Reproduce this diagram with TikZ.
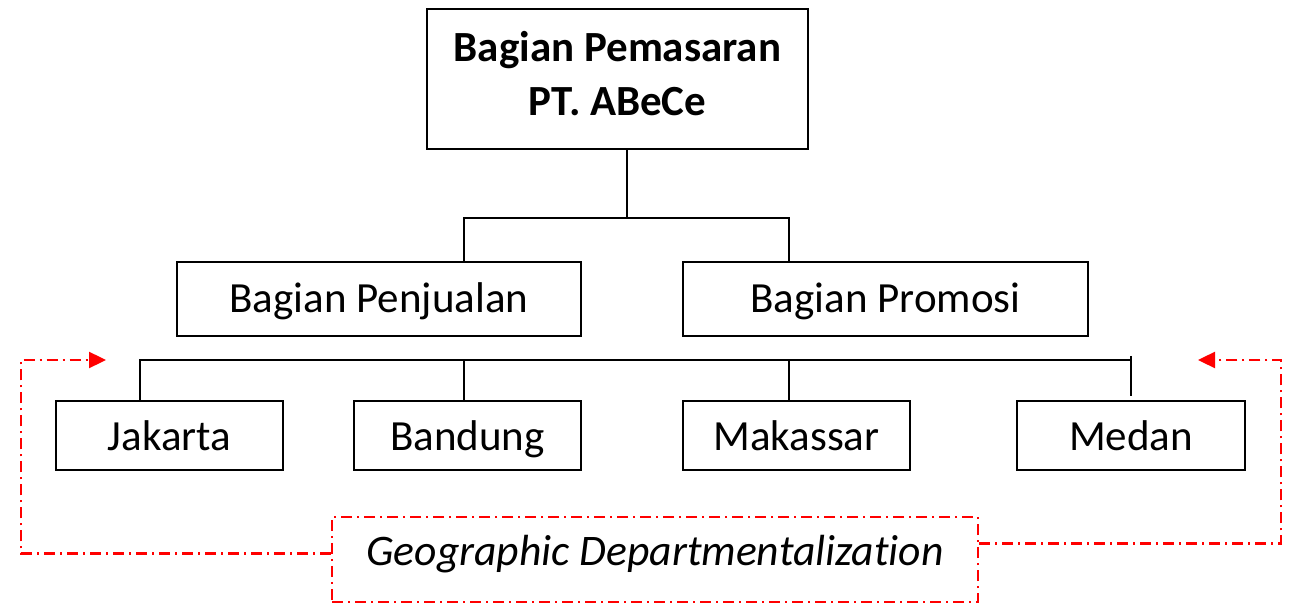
\documentclass[tikz,border=0pt]{standalone}
\usepackage{fontspec}
\setmainfont{Carlito}[Ligatures=NoCommon]
\usetikzlibrary{arrows.meta}
\begin{document}
\begin{tikzpicture}[x=0.5pt,y=-0.5pt,
  box/.style={draw=black,line width=1pt,fill=white,inner sep=0pt,
    font=\fontsize{21.5}{27}\selectfont},
  midbox/.style={box,minimum height=37pt,text height=13.6pt,text depth=0pt},
  citybox/.style={box,minimum width=113.5pt,minimum height=34.5pt,text height=15.5pt,text depth=0pt},
  conn/.style={draw=black,line width=1pt},
  reddash/.style={draw=red,line width=1.2pt,dash pattern=on 5.5pt off 2.5pt on 1pt off 2.5pt},
  redarrow/.style={reddash,-{Triangle[length=8.5pt,width=8pt,fill=red]}}
]
\useasboundingbox (0,0) rectangle (1292,604);
\fill[white] (0,0) rectangle (1292,604);

\node[box,minimum width=190.5pt,minimum height=70pt,align=center,text depth=6pt,
  font=\fontsize{21.5}{27}\selectfont\bfseries] (top) at (617.5,79) {Bagian Pemasaran\\PT. ABeCe};

\node[midbox,minimum width=202pt] (pj) at (379,299) {Bagian Penjualan};
\node[midbox,minimum width=202.5pt] (pr) at (885.5,299) {Bagian Promosi};

\node[citybox] (jk) at (169.5,435.5) {Jakarta};
\node[citybox] (bd) at (467.5,435.5) {Bandung};
\node[citybox] (mk) at (796.5,435.5) {Makassar};
\node[citybox,minimum width=114pt] (md) at (1131,435.5) {Medan};

\node[box,draw=red,line width=1.2pt,dash pattern=on 5.5pt off 2.5pt on 1pt off 2.5pt,
  minimum width=323pt,minimum height=42.5pt,text height=13.6pt,text depth=7.1pt,
  font=\fontsize{21.8}{27}\selectfont\itshape] (geo) at (655,559.5) {Geographic Departmentalization};

% connectors, upper tier
\coordinate (j1) at (627,218);
\coordinate (a1) at (464,218);
\coordinate (a2) at (789,218);
\draw[conn] (top.south -| j1) -- (j1);
\draw[conn] (pj.north -| a1) |- (a2) -- (pr.north -| a2);

% connectors, lower tier
\coordinate (b1) at (140,360);
\coordinate (b2) at (464,360);
\coordinate (b3) at (789,360);
\coordinate (b4) at (1131,360);
\draw[conn] (jk.north -| b1) |- (b4);
\draw[conn] (b2) -- (bd.north -| b2);
\draw[conn] (b3) -- (mk.north -| b3);
\draw[conn] ([yshift=22pt]md.north) -- ([yshift=2pt]md.north);

% red dash-dot arrows
\coordinate (ltip) at (106,360);
\coordinate (rtip) at (1198,360);
\draw[redarrow] ([yshift=3pt]geo.west) -| (21,360) -- (ltip);
\draw[redarrow] ([yshift=8pt]geo.east) -| (1281,360) -- (rtip);
\end{tikzpicture}
\end{document}
